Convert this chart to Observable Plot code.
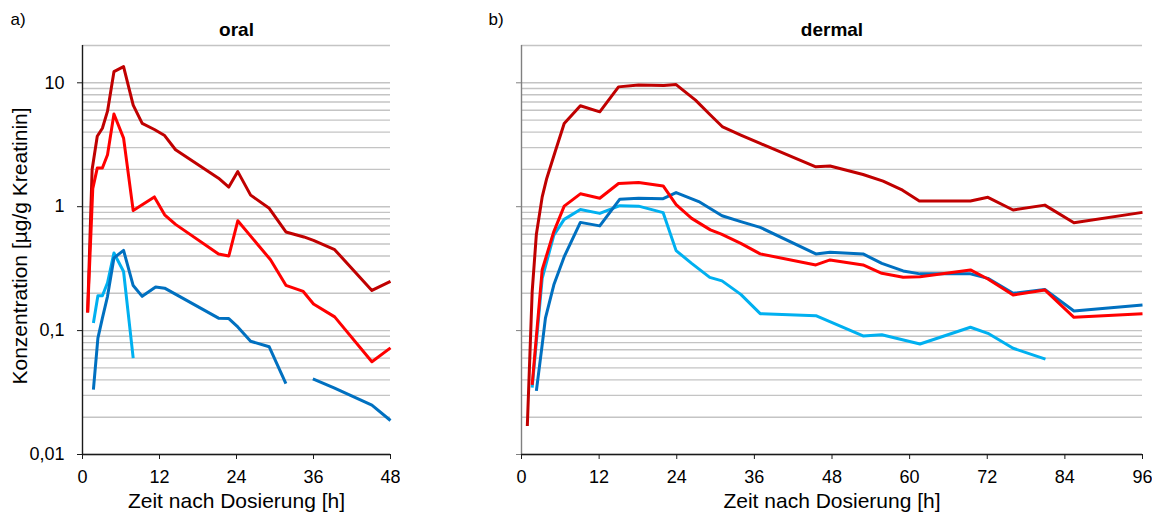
<!DOCTYPE html>
<html>
<head>
<meta charset="utf-8">
<script src="https://cdn.jsdelivr.net/npm/d3@7"></script>
<script src="https://cdn.jsdelivr.net/npm/@observablehq/plot@0.6"></script>
<style>
  html, body { margin: 0; padding: 0; background: #fff; }
  #chart { position: relative; width: 1152px; height: 516px; background: #fff; overflow: hidden; }
  #chart > div { position: absolute; top: 0; }
</style>
</head>
<body>
<div id="chart"><div id="left"></div><div id="right"></div></div>
<script>
// ---------- data ----------
// oral panel (a)
const oralDarkRedT = [0.8, 1.5, 2.3, 3.1, 3.9, 4.9, 6.4, 7.9, 9.3, 11.2, 12.8, 14.5, 21.2, 22.8, 24.2, 26.2, 29.1, 31.7, 34.5, 36, 39.3, 45.1, 48];
const oralDarkRedC = [0.14, 2.0, 3.7, 4.3, 5.9, 12.3, 13.5, 6.6, 4.7, 4.2, 3.75, 2.88, 1.70, 1.44, 1.92, 1.24, 0.97, 0.625, 0.57, 0.535, 0.45, 0.211, 0.25];
const oralRedT = [0.8, 1.6, 2.3, 3.1, 3.9, 4.9, 6.4, 7.9, 11.2, 12.8, 14.5, 21.2, 22.8, 24.2, 29.3, 31.7, 34.4, 36, 39.3, 45.1, 48];
const oralRedC = [0.14, 1.4, 2.05, 2.05, 2.63, 5.6, 3.58, 0.93, 1.2, 0.86, 0.72, 0.415, 0.40, 0.77, 0.373, 0.232, 0.207, 0.164, 0.129, 0.056, 0.0725];
const oralBlueT = [1.7, 2.4, 3.1, 3.9, 4.9, 6.4, 7.9, 9.3, 11.4, 12.8, 21.2, 22.8, 24.2, 26.2, 29.1, 31.7, 34, 35.9, 39.2, 45.1, 48];
const oralBlueC = [0.0334, 0.087, 0.126, 0.189, 0.386, 0.444, 0.231, 0.189, 0.225, 0.22, 0.126, 0.125, 0.107, 0.082, 0.074, 0.0374, null, 0.0408, 0.0345, 0.025, 0.0188];
const oralLightBlueT = [1.7, 2.4, 3.1, 3.9, 4.9, 6.4, 7.9];
const oralLightBlueC = [0.115, 0.191, 0.191, 0.243, 0.423, 0.30, 0.060];

// dermal panel (b)
const dermalDarkRedT = [0.9, 1.65, 2.3, 3.2, 3.9, 5.2, 6.6, 9.1, 12.1, 15.0, 18.1, 22.0, 23.9, 26.9, 29.2, 31.1, 33.9, 36.9, 45.5, 47.7, 52.8, 55.9, 58.9, 61.5, 69.4, 72.1, 76.0, 80.9, 85.4, 96];
const dermalDarkRedC = [0.017, 0.206, 0.6, 1.2, 1.69, 2.78, 4.69, 6.53, 5.83, 9.27, 9.6, 9.5, 9.67, 7.25, 5.49, 4.4, 3.79, 3.24, 2.10, 2.13, 1.82, 1.61, 1.36, 1.11, 1.11, 1.19, 0.94, 1.03, 0.743, 0.9];
const dermalRedT = [1.65, 3.2, 5.0, 6.6, 9.1, 12.1, 15.0, 18.1, 21.9, 23.9, 26.3, 29.2, 30.9, 33.9, 36.9, 45.5, 47.7, 52.8, 55.7, 59.0, 61.6, 69.4, 72.1, 76.0, 80.9, 85.4, 96];
const dermalRedC = [0.0365, 0.31, 0.63, 1.01, 1.27, 1.17, 1.54, 1.57, 1.47, 1.04, 0.805, 0.65, 0.60, 0.506, 0.416, 0.339, 0.372, 0.339, 0.29, 0.27, 0.272, 0.309, 0.261, 0.194, 0.213, 0.128, 0.137];
const dermalBlueT = [2.3, 3.2, 3.7, 5.0, 6.6, 9.1, 12.1, 15.2, 18.1, 21.9, 23.9, 27.4, 31.0, 33.9, 36.9, 45.5, 47.7, 52.8, 55.7, 59.0, 61.6, 69.4, 72.1, 76.0, 80.9, 85.4, 96];
const dermalBlueC = [0.0326, 0.077, 0.126, 0.234, 0.395, 0.747, 0.70, 1.15, 1.17, 1.16, 1.30, 1.10, 0.845, 0.757, 0.681, 0.416, 0.428, 0.416, 0.349, 0.303, 0.287, 0.287, 0.264, 0.200, 0.215, 0.144, 0.161];
const dermalLightBlueT = [1.65, 3.2, 5.0, 6.6, 9.1, 12.1, 15.2, 18.1, 21.9, 23.9, 26.3, 29.1, 31.0, 33.9, 36.9, 45.5, 52.8, 55.7, 61.6, 69.4, 72.1, 76.0, 81.0];
const dermalLightBlueC = [0.0347, 0.264, 0.59, 0.79, 0.95, 0.883, 1.02, 1.01, 0.895, 0.442, 0.349, 0.269, 0.252, 0.196, 0.137, 0.132, 0.0905, 0.0925, 0.078, 0.1064, 0.0951, 0.072, 0.0589];

// axes
const yDomain = [0.01, 20];
const yTickValues = [0.01, 0.1, 1, 10];
const gridValues = [0.01,0.02,0.03,0.04,0.05,0.06,0.07,0.08,0.09,0.1,0.2,0.3,0.4,0.5,0.6,0.7,0.8,0.9,1,2,3,4,5,6,7,8,9,10,20];
const oralXTicks = [0, 12, 24, 36, 48];
const dermalXTicks = [0, 12, 24, 36, 48, 60, 72, 84, 96];
const xLabel = "Zeit nach Dosierung [h]";
const yLabel = "Konzentration [µg/g Kreatinin]";

// ---------- styles ----------
const COLORS = {lightBlue: "#00b0f0", blue: "#0070c0", darkRed: "#c00000", red: "#ff0000"};
const FONT = "'Liberation Sans', Arial, Helvetica, sans-serif";

function toRows(ts, cs) { return ts.map((t, i) => ({t, c: cs[i]})); }

function lineMark(ts, cs, color) {
  return Plot.line(toRows(ts, cs), {x: "t", y: "c", stroke: color, strokeWidth: 3, strokeLinejoin: "round", strokeLinecap: "butt"});
}

function panel({width, marginLeft, xMax, xTicks, series, title, letter, letterDx, axisColor, showYLabels}) {
  const marks = [
    Plot.ruleY(gridValues, {stroke: "#c4c4c4", strokeWidth: 1.4}),
    ...series.map(s => lineMark(s[0], s[1], s[2])),
    Plot.ruleX([0], {stroke: axisColor, strokeWidth: 1.4}),
    Plot.ruleY([0.01], {stroke: "#1a1a1a", strokeWidth: 1.4}),
    Plot.axisX({ticks: xTicks, tickSize: 5, tickPadding: 11, tickFormat: d => String(d), label: null, stroke: "#1a1a1a", fontSize: 18}),
    Plot.text([title], {frameAnchor: "top", lineAnchor: "middle", dy: -16, fontWeight: "bold", fontSize: 19, fill: "#000"}),
    Plot.text([letter], {frameAnchor: "top-left", lineAnchor: "middle", dx: letterDx, dy: -26, textAnchor: "start", fontSize: 17, fill: "#000"}),
    Plot.text([xLabel], {frameAnchor: "bottom", lineAnchor: "middle", dy: 47, fontSize: 21, fill: "#000"})
  ];
  if (showYLabels) {
    marks.push(Plot.axisY({ticks: yTickValues, tickSize: 5, tickPadding: 13, tickFormat: d => String(d).replace(".", ","), label: null, stroke: axisColor, fontSize: 18}));
    marks.push(Plot.text([yLabel], {frameAnchor: "left", textAnchor: "middle", lineAnchor: "middle", rotate: -90, dx: -62, dy: -4, fontSize: 21, fill: "#000"}));
  } else {
    marks.push(Plot.axisY({ticks: yTickValues, tickSize: 5, fill: "none", label: null, stroke: axisColor}));
  }
  return Plot.plot({
    width, height: 516,
    marginLeft, marginRight: 10, marginTop: 45, marginBottom: 62,
    style: {fontFamily: FONT, fontSize: "18px", color: "#000", background: "transparent"},
    x: {domain: [0, xMax]},
    y: {type: "log", domain: yDomain},
    marks
  });
}

const left = panel({
  width: 400, marginLeft: 82, xMax: 48, xTicks: oralXTicks,
  series: [
    [oralLightBlueT, oralLightBlueC, COLORS.lightBlue],
    [oralBlueT, oralBlueC, COLORS.blue],
    [oralDarkRedT, oralDarkRedC, COLORS.darkRed],
    [oralRedT, oralRedC, COLORS.red]
  ],
  title: "oral", letter: "a)", letterDx: -72, axisColor: "#1a1a1a", showYLabels: true
});
const right = panel({
  width: 712, marginLeft: 81, xMax: 96, xTicks: dermalXTicks,
  series: [
    [dermalLightBlueT, dermalLightBlueC, COLORS.lightBlue],
    [dermalBlueT, dermalBlueC, COLORS.blue],
    [dermalDarkRedT, dermalDarkRedC, COLORS.darkRed],
    [dermalRedT, dermalRedC, COLORS.red]
  ],
  title: "dermal", letter: "b)", letterDx: -33, axisColor: "#808080", showYLabels: false
});
const L = document.getElementById("left"); L.style.left = "0px"; L.appendChild(left);
const R = document.getElementById("right"); R.style.left = "440px"; R.appendChild(right);
</script>
</body>
</html>
